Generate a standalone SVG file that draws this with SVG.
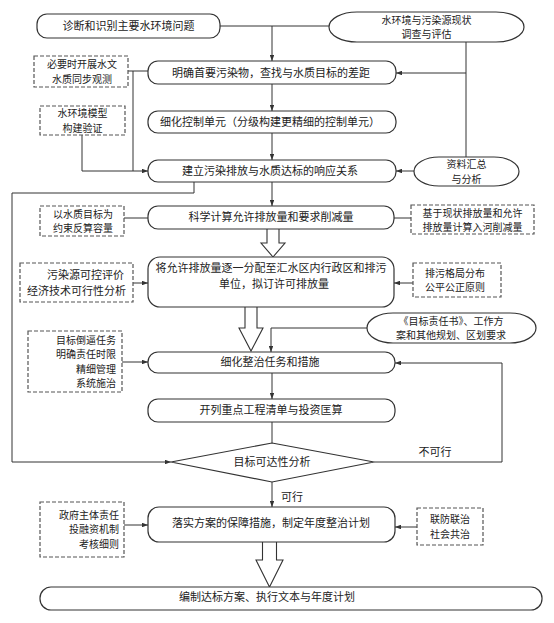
<svg xmlns="http://www.w3.org/2000/svg" width="554" height="623" viewBox="0 0 554 623">
<defs>
<style>
.n{fill:#fff;stroke:#333;stroke-width:1.2}
.d{fill:#fff;stroke:#555;stroke-width:1.2;stroke-dasharray:4 2}
.c{fill:none;stroke:#333;stroke-width:1}
.ba{fill:#fff;stroke:#333;stroke-width:1.1}
text{font-family:"Noto Sans CJK SC","Noto Sans",sans-serif;font-size:11px;fill:#222}
text.s{font-size:10px}
.m{text-anchor:middle}
.e{text-anchor:end}
</style>
<marker id="a" viewBox="0 0 8 6" refX="8" refY="3" markerWidth="6" markerHeight="4.5" orient="auto" markerUnits="userSpaceOnUse">
<path d="M0,0 L8,3 L0,6 z" fill="#333"/>
</marker>
</defs>
<rect width="554" height="623" fill="#fff"/>

<g id="connectors">
<path class="c" d="M220,26 H329"/>
<path class="c" d="M272,26 V61" marker-end="url(#a)"/>
<path class="c" d="M466,42 V157"/>
<path class="c" d="M466,73 H396" marker-end="url(#a)"/>
<path class="c" d="M272,84 V111" marker-end="url(#a)"/>
<path class="c" d="M272,133 V160" marker-end="url(#a)"/>
<path class="c" d="M414,171 H396" marker-end="url(#a)"/>
<path class="c" d="M128,71 H148"/>
<path class="c" d="M133,71 V171"/>
<path class="c" d="M82,135 V171 H148" marker-end="url(#a)"/>
<path class="c" d="M272,182 V206" marker-end="url(#a)"/>
<path class="c" d="M194,182 V193 H12 V462 H171" marker-end="url(#a)"/>
<path class="c" d="M124,218 H148"/>
<path class="c" d="M411,218 H394"/>
<path class="c" d="M133,283 H148" marker-end="url(#a)"/>
<path class="c" d="M413,283 H394" marker-end="url(#a)"/>
<path class="c" d="M367,328 H271 V352" marker-end="url(#a)"/>
<path class="c" d="M122,362 H148" marker-end="url(#a)"/>
<path class="c" d="M272,373 V399" marker-end="url(#a)"/>
<path class="c" d="M272,422 V443"/>
<path class="c" d="M374,462 H502 V363 H395" marker-end="url(#a)"/>
<path class="c" d="M272,482 V507" marker-end="url(#a)"/>
<path class="c" d="M124,525 H148" marker-end="url(#a)"/>
<path class="c" d="M417,527 H395" marker-end="url(#a)"/>
<path class="ba" d="M267,229 V243 H261 L273,257 L285,243 H279 V229"/>
<path class="ba" d="M245,307 V328 H239 L251,351 L263,328 H257 V307"/>
<path class="ba" d="M262.5,542 V560 H256 L269.5,587 L283,560 H276.5 V542"/>
<text class="m" x="435" y="456">不可行</text>
<text x="281" y="501">可行</text>
</g>

<g id="n1"><rect class="n" x="37" y="14" width="183" height="24" rx="10"/><text class="m" x="128.5" y="30">诊断和识别主要水环境问题</text></g>
<g id="n_survey"><rect class="n" x="329" y="12" width="195" height="30" rx="28" ry="15"/><text class="m s" x="426.5" y="23.5">水环境与污染源现状<tspan x="426.5" dy="14.5">调查与评估</tspan></text></g>
<g id="n2"><rect class="n" x="148" y="61" width="248" height="23" rx="10"/><text class="m" x="271" y="76.5">明确首要污染物，查找与水质目标的差距</text></g>
<g id="d_obs"><rect class="d" x="34" y="56" width="94" height="31"/><text class="m s" x="82" y="68">必要时开展水文<tspan x="82" dy="14.5">水质同步观测</tspan></text></g>
<g id="d_model"><rect class="d" x="40" y="106" width="85" height="29"/><text class="m s" x="82.5" y="117">水环境模型<tspan x="82.5" dy="14.5">构建验证</tspan></text></g>
<g id="n3"><rect class="n" x="148" y="111" width="248" height="22" rx="10"/><text class="m" x="270" y="126">细化控制单元（分级构建更精细的控制单元）</text></g>
<g id="n4"><rect class="n" x="148" y="160" width="248" height="22" rx="10"/><text class="m" x="270" y="175">建立污染排放与水质达标的响应关系</text></g>
<g id="n_data"><rect class="n" x="414" y="157" width="105" height="29" rx="25" ry="14.5"/><text class="m s" x="466.5" y="168">资料汇总<tspan x="466.5" dy="14.5">与分析</tspan></text></g>
<g id="n5"><rect class="n" x="148" y="206" width="246" height="23" rx="10"/><text class="m" x="271" y="221">科学计算允许排放量和要求削减量</text></g>
<g id="d_cap"><rect class="d" x="40" y="206" width="84" height="30"/><text class="m s" x="83" y="217.5">以水质目标为<tspan x="83" dy="14.5">约束反算容量</tspan></text></g>
<g id="d_red"><rect class="d" x="411" y="205" width="123" height="29"/><text class="m s" x="472.5" y="216.5">基于现状排放量和允许<tspan x="472.5" dy="14.5">排放量计算入河削减量</tspan></text></g>
<g id="n6"><rect class="n" x="148" y="257" width="246" height="50" rx="12"/><text class="m" x="271" y="271.5">将允许排放量逐一分配至汇水区内行政区和排污<tspan x="274" dy="16">单位，拟订许可排放量</tspan></text></g>
<g id="d_src"><rect class="d" x="20" y="263" width="113" height="39"/><text class="e" x="124" y="278.5">污染源可控评价<tspan x="126" dy="16">经济技术可行性分析</tspan></text></g>
<g id="d_fair"><rect class="d" x="413" y="263" width="88" height="34"/><text class="m s" x="455" y="276.5">排污格局分布<tspan x="455" dy="14.5">公平公正原则</tspan></text></g>
<g id="n_resp"><rect class="n" x="367" y="313" width="169" height="30" rx="26" ry="15"/><text class="m s" x="451" y="324.5">《目标责任书》、工作方<tspan x="451" dy="14.5">案和其他规划、区划要求</tspan></text></g>
<g id="d_task"><rect class="d" x="28" y="331" width="94" height="61"/><text class="e s" x="116" y="343.5">目标倒逼任务<tspan x="116" dy="14.5">明确责任时限</tspan><tspan x="116" dy="14.5">精细管理</tspan><tspan x="116" dy="14.5">系统施治</tspan></text></g>
<g id="n7"><rect class="n" x="148" y="352" width="247" height="21" rx="10"/><text class="m" x="270" y="366">细化整治任务和措施</text></g>
<g id="n8"><rect class="n" x="148" y="399" width="247" height="23" rx="10"/><text class="m" x="271" y="414">开列重点工程清单与投资匡算</text></g>
<g id="n_diamond"><polygon class="n" points="272,443 374,462 272,482 171,462"/><text class="m" x="272" y="466">目标可达性分析</text></g>
<g id="n9"><rect class="n" x="148" y="507" width="247" height="35" rx="11"/><text class="m" x="271" y="527">落实方案的保障措施，制定年度整治计划</text></g>
<g id="d_gov"><rect class="d" x="40" y="502" width="84" height="55"/><text class="e s" x="119" y="518.8">政府主体责任<tspan x="119" dy="14.5">投融资机制</tspan><tspan x="119" dy="14.5">考核细则</tspan></text></g>
<g id="d_joint"><rect class="d" x="417" y="508" width="66" height="37"/><text class="m s" x="450" y="523">联防联治<tspan x="450" dy="14.5">社会共治</tspan></text></g>
<g id="n10"><rect class="n" x="40" y="587" width="502" height="23" rx="11"/><text class="m" x="267" y="601">编制达标方案、执行文本与年度计划</text></g>
</svg>
